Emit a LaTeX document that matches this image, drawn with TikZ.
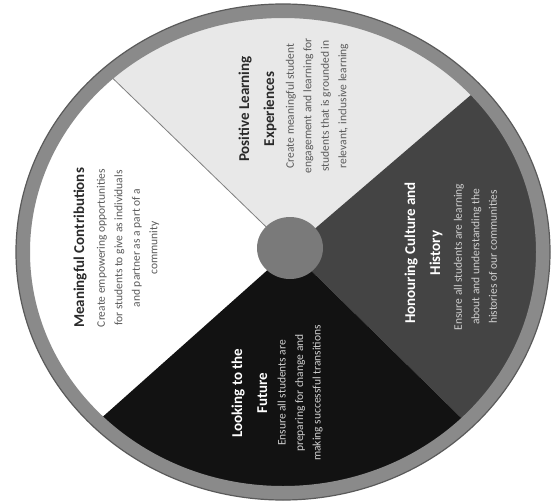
\documentclass[tikz,border=0pt]{standalone}
\usepackage{fontspec}
\setmainfont{Carlito}
\definecolor{ringgray}{HTML}{8A8A8A}
\definecolor{ringedge}{HTML}{5A5A5A}
\definecolor{toplight}{HTML}{E8E8E8}
\definecolor{rightdark}{HTML}{444444}
\definecolor{bottomblack}{HTML}{121212}
\definecolor{hubgray}{HTML}{7A7A7A}
\definecolor{darktext}{HTML}{2A2A2A}
\definecolor{midtext}{HTML}{5A5A5A}
\definecolor{lighttext}{HTML}{D0D0D0}
\begin{document}
\begin{tikzpicture}[x=1pt,y=-1pt,
  titletext/.style={rotate=90,align=center,font=\fontsize{15}{25}\selectfont\bfseries,inner sep=0pt},
  bodytext/.style={rotate=90,align=center,font=\fontsize{11.5}{17.5}\selectfont,inner sep=0pt}]
\useasboundingbox (0,0) rectangle (557,503);
\fill[white] (0,0) rectangle (557,503);
\coordinate (c) at (290,250);
\coordinate (A) at (65,32);
\coordinate (B) at (528,46);
\coordinate (C) at (499,455);
\coordinate (D) at (52,462);
\begin{scope}
  \clip (283,252) ellipse [x radius=254, y radius=235];
  \fill[white] (c) -- (A) -- (0,32) -- (0,462) -- (D) -- cycle;
  \fill[toplight] (c) -- (A) -- (65,-20) -- (528,-20) -- (B) -- cycle;
  \fill[rightdark] (c) -- (B) -- (620,46) -- (620,455) -- (C) -- cycle;
  \fill[bottomblack] (c) -- (C) -- (499,540) -- (52,540) -- (D) -- cycle;
  \draw[gray, line width=0.8pt] (c) -- (A);
\end{scope}
\fill[ringgray, even odd rule] (283,252) ellipse [x radius=267, y radius=248]
  (283,252) ellipse [x radius=253, y radius=234];
\draw[ringedge, line width=1.2pt] (283,252) ellipse [x radius=267, y radius=248];
\fill[hubgray] (290,248) ellipse [x radius=33, y radius=31];
\node[titletext, text=darktext] (mct) at (80,248) {Meaningful Contributions};
\node[bodytext, text=midtext] (mcb) at (128,248) {Create empowering opportunities\\for students to give as individuals\\and partner as a part of a\\community};
\node[titletext, text=darktext] (plt) at (257.5,109) {Positive Learning\\Experiences};
\node[bodytext, text=midtext] (plb) at (317,106) {Create meaningful student\\engagement and learning for\\students that is grounded in\\relevant, inclusive learning};
\node[titletext, text=white] (hct) at (423.5,253) {Honouring Culture and\\History};
\node[bodytext, text=lighttext] (hcb) at (475.5,257) {Ensure all students are learning\\about and understanding the\\histories of our communities};
\node[titletext, text=white] (lft) at (249.5,393) {Looking to the\\Future};
\node[bodytext, text=lighttext] (lfb) at (300,393) {Ensure all students are\\preparing for change and\\making successful transitions};
\end{tikzpicture}
\end{document}
